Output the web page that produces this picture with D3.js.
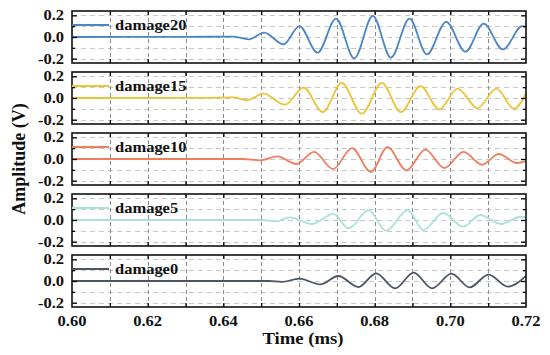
<!DOCTYPE html>
<html>
<head>
<meta charset="utf-8">
<script src="https://cdn.jsdelivr.net/npm/d3@7"></script>
<style>
  body { margin: 0; background: #fff; }
  .lbl { font-family: "Liberation Serif", "Times New Roman", serif; font-weight: bold; fill: #111; }
</style>
</head>
<body>
<div id="viz"></div>
<script>
// data: [time (ms), amplitude (V)] at the turning points
var seriesNames = ["damage20", "damage15", "damage10", "damage5", "damage0"];
var timeTicks = [0.60, 0.62, 0.64, 0.66, 0.68, 0.70, 0.72];
var timeGrid = [0.61, 0.62, 0.63, 0.64, 0.65, 0.66, 0.67, 0.68, 0.69, 0.70, 0.71];
var ampTicks = [0.2, 0.0, -0.2];
var ampMinor = [0.1, -0.1];

var damage20 = [[0.600, 0], [0.630, 0.001], [0.6425, 0.004], [0.6467, -0.022], [0.6508, 0.040], [0.6559, -0.068],
  [0.6601, 0.100], [0.6649, -0.145], [0.6698, 0.170], [0.6746, -0.198], [0.6795, 0.195], [0.6843, -0.190],
  [0.6892, 0.170], [0.6938, -0.160], [0.6989, 0.140], [0.7040, -0.136], [0.7088, 0.123], [0.7139, -0.115],
  [0.7190, 0.100], [0.7200, 0.095]];
var damage15 = [[0.600, 0], [0.636, 0.002], [0.6427, 0.005], [0.6462, -0.020], [0.6506, 0.040], [0.6563, -0.062],
  [0.6612, 0.095], [0.6663, -0.130], [0.6713, 0.139], [0.6766, -0.145], [0.6819, 0.140], [0.6869, -0.130],
  [0.6921, 0.110], [0.6971, -0.105], [0.7019, 0.086], [0.7072, -0.093], [0.7122, 0.086], [0.7168, -0.099],
  [0.7200, 0.040]];
var damage10 = [[0.600, 0], [0.645, 0.000], [0.6497, -0.012], [0.6543, 0.025], [0.6593, -0.046], [0.6640, 0.065],
  [0.6690, -0.093], [0.6740, 0.100], [0.6790, -0.120], [0.6834, 0.110], [0.6884, -0.105], [0.6934, 0.086],
  [0.6984, -0.083], [0.7035, 0.065], [0.7084, -0.053], [0.7128, 0.046], [0.7176, -0.037], [0.7200, -0.020]];
var damage5 = [[0.600, 0], [0.650, 0.000], [0.6541, -0.012], [0.6575, 0.025], [0.6634, -0.037], [0.6691, 0.056],
  [0.6731, -0.078], [0.6784, 0.091], [0.6830, -0.098], [0.6887, 0.090], [0.6929, -0.093], [0.6981, 0.065],
  [0.7034, -0.062], [0.7079, 0.046], [0.7134, -0.037], [0.7185, 0.030], [0.7200, 0.027]];
var damage0 = [[0.600, 0], [0.652, 0.000], [0.6555, -0.008], [0.6601, 0.022], [0.6656, -0.031], [0.6704, 0.046],
  [0.6757, -0.056], [0.6804, 0.071], [0.6854, -0.068], [0.6903, 0.078], [0.6952, -0.068], [0.7003, 0.068],
  [0.7051, -0.059], [0.7101, 0.059], [0.7152, -0.052], [0.7200, 0.048]];

var seriesData = [damage20, damage15, damage10, damage5, damage0];
var colors = ["#4a86c6", "#ecc435", "#ef7d5e", "#a9e2da", "#4c5466"];

var W = 550, H = 355;
var left = 72, right = 526, top0 = 11, panelH = 52, pitch = 61;
var sx = 1.1; // the reference text is a little wide

var svg = d3.select("#viz").append("svg").attr("width", W).attr("height", H);

var x = d3.scaleLinear().domain([0.60, 0.72]).range([left, right]);

function label(g, txt, px, py, size, anchor) {
  g.append("g").attr("transform", "translate(" + px + "," + py + ") scale(" + sx + ",1)")
    .append("text").attr("class", "lbl").attr("font-size", size).attr("text-anchor", anchor).text(txt);
}

seriesData.forEach(function(data, i) {
  var top = top0 + i * pitch;
  var y = d3.scaleLinear().domain([-0.24, 0.24]).range([top + panelH, top]);
  var g = svg.append("g");

  // grid
  g.selectAll(".hg").data([0.2, 0.1, 0, -0.1, -0.2]).enter().append("line")
    .attr("x1", left).attr("x2", right)
    .attr("y1", function(d) { return Math.round(y(d)) + 0.5; })
    .attr("y2", function(d) { return Math.round(y(d)) + 0.5; })
    .attr("stroke", "#c8c8c8").attr("stroke-dasharray", "5,4").attr("stroke-width", 1);
  g.selectAll(".vg").data(timeGrid).enter().append("line")
    .attr("x1", function(d) { return Math.round(x(d)) + 0.5; })
    .attr("x2", function(d) { return Math.round(x(d)) + 0.5; })
    .attr("y1", top).attr("y2", top + panelH)
    .attr("stroke", "#8c8c8c").attr("stroke-dasharray", "4,3").attr("stroke-width", 1);

  // signal
  var line = d3.line().x(function(d) { return x(d[0]); }).y(function(d) { return y(d[1]); })
    .curve(d3.curveMonotoneX);
  g.append("path").datum(data).attr("d", line)
    .attr("fill", "none").attr("stroke", colors[i]).attr("stroke-width", 1.8);

  // axes with inward ticks
  var yAxisL = d3.axisLeft(y).tickValues(ampTicks).tickSize(-5).tickFormat("");
  var yAxisLm = d3.axisLeft(y).tickValues(ampMinor).tickSize(-3).tickFormat("");
  var yAxisR = d3.axisRight(y).tickValues(ampTicks).tickSize(-5).tickFormat("");
  var yAxisRm = d3.axisRight(y).tickValues(ampMinor).tickSize(-3).tickFormat("");
  var xTop = d3.axisTop(x).tickValues(timeGrid).tickSize(-4).tickFormat("");
  var xBot = d3.axisBottom(x).tickValues(timeGrid).tickSize(-4).tickFormat("");
  [[yAxisL, left, 0], [yAxisLm, left, 0], [yAxisR, right, 0], [yAxisRm, right, 0], [xTop, 0, top], [xBot, 0, top + panelH]]
    .forEach(function(a) {
      var ag = g.append("g").attr("transform", "translate(" + a[1] + "," + a[2] + ")").call(a[0]);
      ag.select(".domain").remove();
      ag.selectAll("line").attr("stroke", "#000").attr("stroke-width", 1.3);
    });

  // frame
  g.append("rect").attr("x", left).attr("y", top).attr("width", right - left).attr("height", panelH)
    .attr("fill", "none").attr("stroke", "#111").attr("stroke-width", 1.6);

  // y tick labels
  ampTicks.forEach(function(v) {
    label(g, v.toFixed(1), left - 8, y(v) + 5, 15, "end");
  });

  // legend
  g.append("line").attr("x1", left).attr("x2", left + 37)
    .attr("y1", top + 14).attr("y2", top + 14)
    .attr("stroke", colors[i]).attr("stroke-width", 1.8);
  label(g, seriesNames[i], left + 43, top + 19, 15, "start");
});

// x tick labels
timeTicks.forEach(function(t) {
  label(svg, t.toFixed(2), x(t), 326, 15, "middle");
});

label(svg, "Time (ms)", (left + right) / 2 + 4, 344, 17, "middle");

svg.append("text").attr("class", "lbl").attr("font-size", 18).attr("text-anchor", "middle")
  .attr("transform", "translate(25," + (top0 + (4 * pitch + panelH) / 2) + ") rotate(-90)")
  .text("Amplitude (V)");
</script>
</body>
</html>
